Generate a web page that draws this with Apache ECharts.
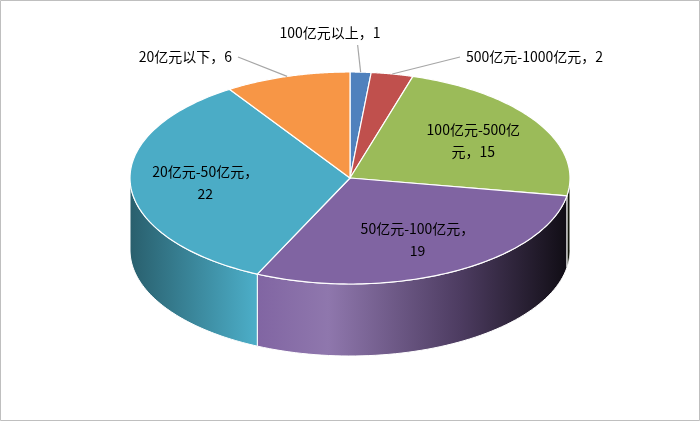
<!DOCTYPE html><html><head><meta charset="utf-8">
<script src="https://cdn.jsdelivr.net/npm/echarts@6/dist/echarts.min.js"></script>
<style>html,body{margin:0;padding:0;background:#fff}#c{width:700px;height:421px}</style></head><body><div id="c"></div>
<script>
const categories=['100亿元以上','500亿元-1000亿元','100亿元-500亿元','50亿元-100亿元','20亿元-50亿元','20亿元以下'];
const values=[1,2,15,19,22,6];
const colors=['#4F81BD','#C0504D','#9BBB59','#8064A2','#4BACC6','#F79646'];
const G={cx:350,cy:178,rx:220,ry:106,depth:72};
// label styling: [mode, anchorX, anchorY, align]  (null = inside)
const labelStyle=[['out',330,33,'center'],['out',466,57,'left'],null,null,null,['out',232,57,'right']];
const total=values.reduce((a,b)=>a+b,0);
const starts=[];let acc=0;values.forEach(v=>{starts.push(acc/total*360);acc+=v;});
function pt(deg,f,dy){const r=deg*Math.PI/180;return [G.cx+G.rx*f*Math.sin(r),G.cy-G.ry*f*Math.cos(r)+(dy||0)];}
function shade(hex,k){const n=parseInt(hex.slice(1),16);let r=n>>16,g=(n>>8)&255,b=n&255;
 const f=c=>Math.round(k<1?c*k:c+(255-c)*(k-1));return 'rgb('+f(r)+','+f(g)+','+f(b)+')';}
function sideItem(i){const a=starts[i],b=a+values[i]/total*360;const lo=Math.max(a,90),hi=Math.min(b,270);
 if(hi<=lo)return null;const pts=[];const N=60;
 for(let k=0;k<=N;k++)pts.push(pt(lo+(hi-lo)*k/N,1,0));
 for(let k=N;k>=0;k--)pts.push(pt(lo+(hi-lo)*k/N,1,G.depth));
 const c=colors[i];
 return {type:'polygon',shape:{points:pts},style:{fill:new echarts.graphic.LinearGradient(G.cx-G.rx,0,G.cx+G.rx,0,[
  {offset:0,color:shade(c,0.55)},{offset:0.28,color:shade(c,1.0)},{offset:0.45,color:shade(c,1.12)},{offset:0.75,color:shade(c,0.6)},{offset:1,color:shade(c,0.12)}],true),stroke:'#fff',lineWidth:1}};}
function topItem(i){const a=starts[i],b=a+values[i]/total*360;const pts=[[G.cx,G.cy]];const N=90;
 for(let k=0;k<=N;k++)pts.push(pt(a+(b-a)*k/N,1,0));
 const ch=[{type:'polygon',shape:{points:pts},style:{fill:colors[i],stroke:'#fff',lineWidth:1.2}}];
 const mid=(a+b)/2;const txt=categories[i]+'，'+values[i];const ls=labelStyle[i];
 const font={fill:'#000',fontSize:14,fontFamily:'"Noto Sans CJK SC",sans-serif'};
 if(ls){const e=pt(mid,1,0);const lx=ls[3]==='center'?ls[1]+20:(ls[3]==='left'?ls[1]-6:ls[1]+6);const ly=ls[3]==='center'?ls[2]+10:ls[2];
  ch.push({type:'polyline',shape:{points:ls[3]==='center'?[e,[e[0]-3,ls[2]+12]]:[e,[lx,ly]]},style:{stroke:'#a6a6a6',lineWidth:1.2,fill:null}});
  ch.push({type:'text',x:ls[1],y:ls[2],style:Object.assign({text:txt,align:ls[3],verticalAlign:'middle'},font)});}
 else{const p=pt(mid,0.66,0);const t=txt.replace(/^(.{6,8}?)(元，|，)/,(m,x,y)=>x+(y==='元，'?'元，\n':'，\n'));
  const t2=i===2?'100亿元-500亿\n元，15':categories[i]+'，\n'+values[i];
  ch.push({type:'text',x:p[0],y:p[1],style:Object.assign({text:t2,align:'center',verticalAlign:'middle',lineHeight:22},font)});}
 return {type:'group',children:ch};}
const data=values.map((v,i)=>[i,v]);
const chart=echarts.init(document.getElementById('c'));
chart.setOption({animation:false,
 graphic:[{type:'rect',shape:{x:0.5,y:0.5,width:699,height:420},style:{fill:null,stroke:'#bfbfbf',lineWidth:1}}],
 series:[
  {type:'custom',coordinateSystem:'none',z:2,data:data,renderItem:(p)=>sideItem(p.dataIndex)||{type:'group',children:[]}},
  {type:'custom',coordinateSystem:'none',z:3,data:data,renderItem:(p)=>topItem(p.dataIndex)}
 ]});
</script></body></html>
